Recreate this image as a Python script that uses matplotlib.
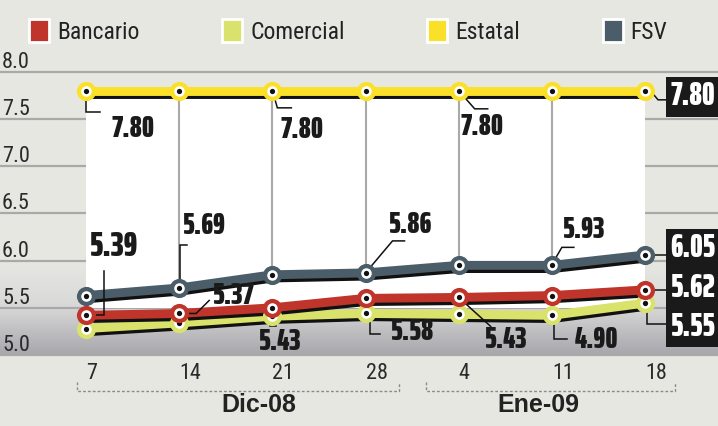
import numpy as np
import matplotlib
matplotlib.use("Agg")
import matplotlib.pyplot as plt
from matplotlib import transforms as mtransforms
from matplotlib.patches import Rectangle, Patch
from matplotlib.lines import Line2D
from matplotlib.colors import LinearSegmentedColormap
import matplotlib.patheffects as pe

# ---------------- data ----------------
categories = ["7", "14", "21", "28", "4", "11", "18"]
months = ["Dic-08", "Ene-09"]
month_spans = [(0, 3), (4, 6)]
series_names = ["Bancario", "Comercial", "Estatal", "FSV"]

# positions of the points as drawn in the graphic
bancario = [5.42, 5.44, 5.50, 5.60, 5.61, 5.63, 5.69]
comercial = [5.28, 5.34, 5.41, 5.44, 5.43, 5.42, 5.55]
estatal = [7.80, 7.80, 7.80, 7.80, 7.80, 7.80, 7.80]
fsv = [5.63, 5.71, 5.85, 5.87, 5.95, 5.95, 6.06]

# printed value labels (index -> value)
bancario_labels = {0: 5.39, 1: 5.37, 2: 5.43, 3: 5.58, 4: 5.43, 6: 5.62}
comercial_labels = {5: 4.90, 6: 5.55}
estatal_labels = {0: 7.80, 2: 7.80, 4: 7.80, 6: 7.80}
fsv_labels = {1: 5.69, 3: 5.86, 5: 5.93, 6: 6.05}

yticks = [5.0, 5.5, 6.0, 6.5, 7.0, 7.5, 8.0]

# ---------------- style ----------------
BG = "#e7e7e2"
C_BAN = "#c0352b"
C_COM = "#d9e26a"
C_EST = "#fbe02a"
C_FSV = "#4b5d68"
GRID = "#a9a9a9"

W, H, DPI = 718, 426, 100
LABEL_FONT = ["Saira ExtraCondensed", "Saira Extra Condensed", "Anton", "DejaVu Sans"]
TEXT_FONT = ["Roboto Condensed", "DejaVu Sans"]
BOLD_FONT = ["Liberation Sans", "DejaVu Sans"]

fig = plt.figure(figsize=(W / DPI, H / DPI), dpi=DPI, facecolor=BG)
ax = fig.add_axes([0, 0, 1, 1])
ax.set_facecolor(BG)
ax.set_axis_off()
XL, XR, YB, YT = -0.923, 6.783, 4.247, 8.763
PX_PER_Y = 94.33

x = np.arange(len(categories))

# gradient band 6.0 -> 5.0
cmap = LinearSegmentedColormap.from_list("g", [BG, "#d8d8d8", "#a6a6ac"])
grad = np.linspace(0, 1, 200).reshape(-1, 1)
ax.imshow(grad, extent=[XL, XR, 5.0, 6.0], aspect="auto", cmap=cmap,
          origin="upper", zorder=0)
ax.set_xlim(XL, XR)
ax.set_ylim(YB, YT)

# horizontal grid
for v in yticks:
    ax.axhline(v, color=GRID, lw=1.6, zorder=1)

# white panel
ax.add_patch(Rectangle((x[0], 5.5), x[-1] - x[0], estatal[0] - 5.5,
                       facecolor="white", edgecolor="none", zorder=2))

# vertical grid lines between estatal and fsv
for i in range(1, len(x) - 1):
    ax.plot([x[i], x[i]], [fsv[i], estatal[i]], color=GRID, lw=1.5, zorder=3)

# y tick labels
ylab_tr = mtransforms.blended_transform_factory(fig.transFigure, ax.transData)
for v in yticks:
    ax.annotate(f"{v:.1f}", xy=(2 / W, v), xycoords=ylab_tr, xytext=(0, 4),
                textcoords="offset pixels", ha="left", va="baseline",
                fontsize=16, family=TEXT_FONT, color="#2a2a2a", zorder=6,
                annotation_clip=False)

# x tick labels
for i, c in enumerate(categories):
    ax.annotate(c, xy=(x[i], 5.0), xytext=(0, -19), textcoords="offset pixels",
                ha="left", va="center", fontsize=16, family=TEXT_FONT,
                color="#2a2a2a")

# month brackets
bracket_pad = [(0.10, 0.36), (0.35, 0.32)]
month_label_x = [1.85, 4.85]
for (a, b), (pl, pr), mx, m in zip(month_spans, bracket_pad, month_label_x, months):
    xa = x[a] - pl
    xb = x[b] + pr
    yb = 5.0 - 36 / PX_PER_Y
    yt = 5.0 - 27 / PX_PER_Y
    ax.plot([xa, xa, xb, xb], [yt, yb, yb, yt], color="#8a8a8a", lw=1.0,
            ls=(0, (2, 1.5)), zorder=3)
    ax.text(mx, 5.0 - 50 / PX_PER_Y, m, ha="center", va="center", fontsize=18,
            fontweight="bold", family=BOLD_FONT, color="#222222")

# series lines
line_lw = 6.4
shadow = [pe.SimpleLineShadow(offset=(0.6, -2.3), shadow_color="#111111",
                              alpha=1.0, rho=1.0), pe.Normal()]
series = [(comercial, C_COM, 10), (bancario, C_BAN, 12), (fsv, C_FSV, 14),
          (estatal, C_EST, 16)]
for vals, col, z in series:
    ax.plot(x, vals, color=col, lw=line_lw, solid_capstyle="round",
            path_effects=shadow, zorder=z)


def leader(i, v, pts, z=20, color="#111111", lw=1.1):
    off = mtransforms.ScaledTranslation(x[i], v, ax.transData)
    tr = mtransforms.Affine2D().scale(1, -1) + off
    xs = [p[0] for p in pts]
    ys = [p[1] for p in pts]
    ax.add_line(Line2D(xs, ys, transform=tr, color=color, lw=lw, zorder=z,
                       solid_joinstyle="miter"))


# (series values, labels dict, index, text offset px (right, down), leader pts, size, boxed)
S = 22
SB = 23
placements = [
    (estatal, estatal_labels, 0, (47, 38), [(0, 3), (0, 21), (14, 21)], S, False),
    (estatal, estatal_labels, 2, (30, 39), [(1, 3), (5, 17), (19, 17)], S, False),
    (estatal, estatal_labels, 4, (23, 36), [(1, 1), (16, 18), (29, 18)], S, False),
    (estatal, estatal_labels, 6, (48, 6), [(8, 3), (13, 9), (22, 9)], SB, True),
    (bancario, bancario_labels, 0, (28, -69), [(0, 0), (18, 0), (18, -44)], 25, False),
    (fsv, fsv_labels, 1, (25, -62), [(1, -9), (1, -43), (8, -43)], S, False),
    (bancario, bancario_labels, 1, (55, -18), [(0, 0), (17, 0), (30, -13)], S, False),
    (bancario, bancario_labels, 2, (8, 34), [(-2, 0), (-2, 18), (4, 18)], S, False),
    (fsv, fsv_labels, 3, (45, -48), [(0, 0), (27, -32), (39, -32)], S, False),
    (bancario, bancario_labels, 3, (47, 33), [(4, 0), (4, 36), (14, 36)], S, False),
    (bancario, bancario_labels, 4, (47, 42), [(0, 0), (32, 29)], S, False),
    (fsv, fsv_labels, 5, (32, -36), [(3, -6), (10, -18), (22, -18)], S, False),
    (comercial, comercial_labels, 5, (45, 24), [(2, 0), (2, 24), (15, 24)], S, False),
    (fsv, fsv_labels, 6, (48, -6), [(8, 0), (22, 0)], SB, True),
    (bancario, bancario_labels, 6, (48, -1), [(8, 0), (22, 0)], SB, True),
    (comercial, comercial_labels, 6, (48, 24), [(2, 3), (2, 21), (22, 21)], SB, True),
]

for vals, labs, i, (dx, dy), pts, size, boxed in placements:
    v = vals[i]
    leader(i, v, pts, z=18)
    txt = f"{labs[i]:.2f}"
    kw = dict(xy=(x[i], v), xytext=(dx, -dy), textcoords="offset pixels",
              ha="center", va="center", fontsize=size, family=LABEL_FONT,
              fontweight=900, zorder=30, annotation_clip=False)
    if boxed:
        ax.annotate(txt, color="white",
                    bbox=dict(boxstyle="square,pad=0.14", facecolor="#1a1a1a",
                              edgecolor="none"), **kw)
    else:
        ax.annotate(txt, color="#1a1a1a", **kw)

# markers
for vals, col, z in series:
    ax.plot(x, vals, "o", ms=13.8, color=col, mec="none", zorder=z + 20)
    ax.plot(x, vals, "o", ms=7.6, color="white", mec="none", zorder=z + 20.1)
    ax.plot(x, vals, "o", ms=3.8, color="#111111", mec="none", zorder=z + 20.2)

# legend
handles = [Patch(facecolor=c, edgecolor="white", linewidth=2.0)
           for c in [C_BAN, C_COM, C_EST, C_FSV]]
leg = fig.legend(handles, series_names, loc="upper left",
                 bbox_to_anchor=(17 / W, 1 - 7 / H), ncol=4, frameon=False,
                 prop={"family": TEXT_FONT, "size": 17}, borderpad=0,
                 handlelength=0.85, handleheight=1.15, handletextpad=0.34,
                 columnspacing=3.5)
for t in leg.get_texts():
    t.set_color("#222222")

fig.savefig("out.png", dpi=DPI, facecolor=BG)
